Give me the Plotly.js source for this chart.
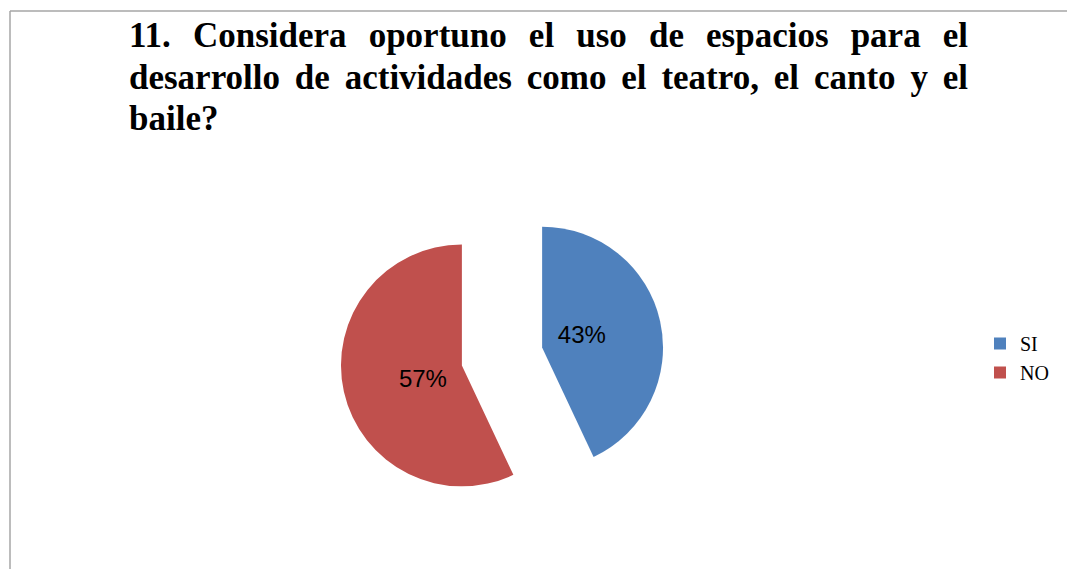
<!DOCTYPE html>
<html>
<head>
<meta charset="utf-8">
<script src="https://cdn.plot.ly/plotly-3.0.1.min.js"></script>
<style>
  html, body { margin: 0; padding: 0; background: #fff; }
  #chart { width: 1067px; height: 569px; }
</style>
</head>
<body>
<div id="chart"></div>
<script>
// ---- data ----
const categories = ["SI", "NO"];
const values = [43, 57];
const colors = ["#4F81BD", "#C0504D"];
const titleLines = [
  "11. Considera oportuno el uso de espacios para el",
  "desarrollo de actividades como el teatro, el canto y el",
  "baile?"
];

// ---- layout helpers ----
const W = 1067, H = 569;
const px = x => x / W;
const py = y => 1 - y / H;
const NB = "\u00a0\u00a0\u00a0\u00a0\u00a0\u00a0";

const titleY = [35, 77, 119];
const annotations = titleLines.map((t, i) => ({
  text: t,
  xref: "paper", yref: "paper",
  x: px(127), y: py(titleY[i]),
  xanchor: "left", yanchor: "middle", align: "left",
  showarrow: false,
  font: { family: "Liberation Serif", size: 35, weight: 700, color: "#000" }
}));

const trace = {
  type: "pie",
  labels: categories,
  values: values,
  marker: { colors: colors, line: { width: 0 } },
  sort: false,
  direction: "clockwise",
  rotation: 0,
  pull: [0.34, 0.34],
  textinfo: "percent",
  texttemplate: ["%{percent}" + NB, NB + "%{percent}"],
  textposition: "inside",
  insidetextorientation: "horizontal",
  textfont: { family: "Liberation Sans", size: 24, color: "#000" },
  hoverinfo: "none",
  domain: { x: [px(340), px(664)], y: [py(518.5), py(194.5)] }
};

const layout = {
  width: W, height: H,
  margin: { l: 0, r: 0, t: 0, b: 0 },
  paper_bgcolor: "#fff",
  plot_bgcolor: "#fff",
  showlegend: true,
  legend: {
    x: px(980), y: py(358), xanchor: "left", yanchor: "middle",
    font: { family: "Liberation Serif", size: 20, color: "#000" },
    bgcolor: "rgba(0,0,0,0)"
  },
  annotations: annotations,
  shapes: [
    { type: "line", xref: "paper", yref: "paper", x0: px(10), x1: 1, y0: py(11), y1: py(11),
      line: { color: "#a6a6a6", width: 1.5 } },
    { type: "line", xref: "paper", yref: "paper", x0: px(10), x1: px(10), y0: py(11), y1: 0,
      line: { color: "#a6a6a6", width: 1.5 } }
  ]
};

Plotly.newPlot("chart", [trace], layout, { displayModeBar: false, staticPlot: true }).then(() => {
  // justify the first two title lines to the same right edge (x = 966 px)
  const target = 966 - 127;
  const texts = document.querySelectorAll("#chart .annotation-text");
  [0, 1].forEach(i => {
    const el = texts[i];
    if (!el) return;
    const len = el.getComputedTextLength();
    const spaces = (titleLines[i].match(/ /g) || []).length;
    if (spaces > 0 && len < target) {
      el.setAttribute("word-spacing", ((target - len) / spaces).toFixed(2));
    }
  });
});
</script>
</body>
</html>
